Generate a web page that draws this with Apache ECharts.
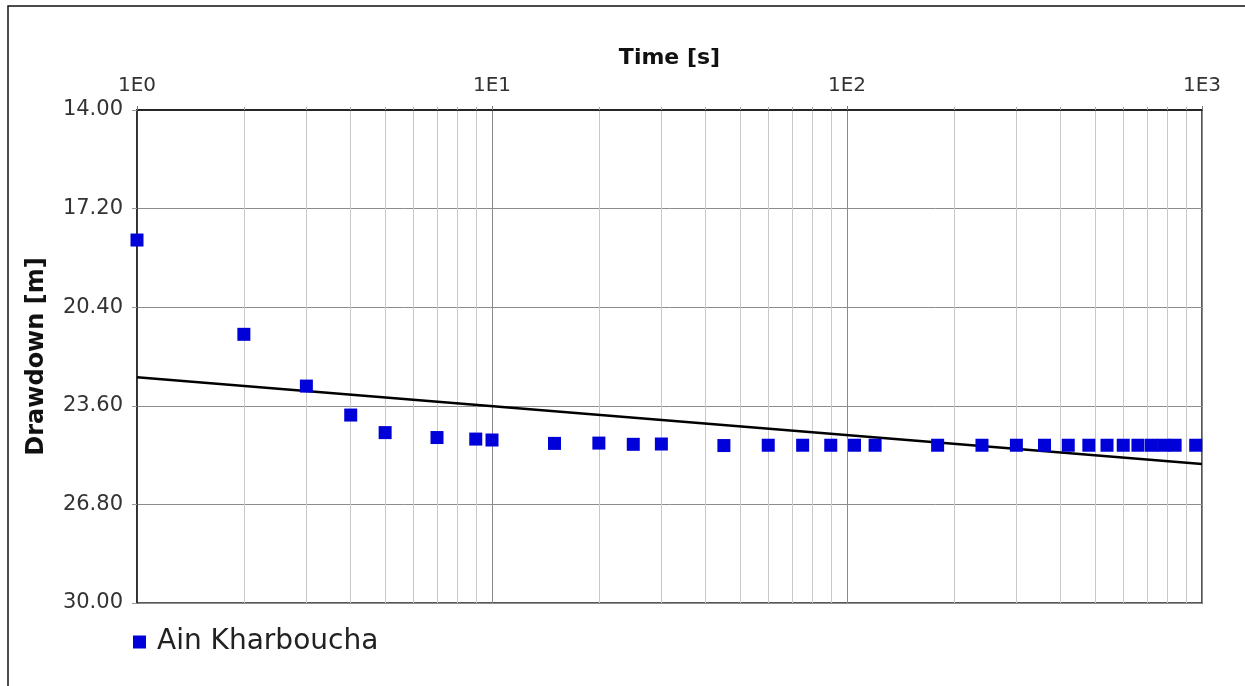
<!DOCTYPE html>
<html>
<head>
<meta charset="utf-8">
<title>Drawdown vs Time</title>
<script src="https://cdn.jsdelivr.net/npm/echarts@6/dist/echarts.min.js"></script>
<style>
  html, body { margin: 0; padding: 0; background: #fff; }
  #chart { width: 1245px; height: 686px; }
</style>
</head>
<body>
<div id="chart"></div>
<script>
// Pumping test observations: elapsed time [s] and drawdown [m]
const times = [1, 2, 3, 4, 5, 7, 9, 10, 15, 20, 25, 30, 45, 60, 75, 90, 105, 120,
  180, 240, 300, 360, 420, 480, 540, 600, 660, 720, 780, 840, 960];
const drawdown = [18.22, 21.28, 22.96, 23.90, 24.47, 24.63, 24.68, 24.71, 24.82, 24.81,
  24.85, 24.84, 24.89, 24.88, 24.88, 24.88, 24.88, 24.88, 24.88, 24.88, 24.88, 24.88,
  24.88, 24.88, 24.88, 24.88, 24.88, 24.88, 24.88, 24.88, 24.88];

// Straight-line (semi-log) fit through the late-time data
const fitTimes = [1, 1000];
const fitDrawdown = [22.67, 25.49];

// Axis ticks
const decadeTicks = [1, 10, 100, 1000];
const minorTicks = [1, 2, 3, 4, 5, 6, 7, 8, 9, 10, 20, 30, 40, 50, 60, 70, 80, 90,
  100, 200, 300, 400, 500, 600, 700, 800, 900, 1000];
const drawdownTicks = [14, 17.2, 20.4, 23.6, 26.8, 30];

const seriesName = 'Ain Kharboucha';

const chart = echarts.init(document.getElementById('chart'));

const font = 'DejaVu Sans';

chart.setOption({
  animation: false,
  backgroundColor: '#fff',
  graphic: [{
    type: 'rect',
    shape: { x: 8, y: 6, width: 1400, height: 900 },
    style: { fill: 'none', stroke: '#111', lineWidth: 1.5 },
    silent: true
  }],
  grid: {
    left: 137, top: 110, right: 43, bottom: 83,
    show: true, borderColor: '#222', borderWidth: 1.5, backgroundColor: 'transparent'
  },
  legend: {
    data: [seriesName],
    left: 128, top: 623,
    icon: 'rect', itemWidth: 13, itemHeight: 13, itemGap: 10,
    textStyle: { fontFamily: font, fontSize: 28, color: '#222', padding: [0, 0, 0, 6] }
  },
  xAxis: [{
    // minor decade subdivisions
    type: 'log', logBase: 10, min: 1, max: 1000, position: 'top',
    axisLine: { show: true, lineStyle: { color: '#222', width: 1.5 } },
    axisTick: { show: true, customValues: minorTicks, length: 3, inside: false,
      lineStyle: { color: '#aaa' } },
    axisLabel: { show: false },
    splitLine: { show: true, lineStyle: { color: '#c8c8c8', width: 1 } }
  }, {
    // decades with labels
    type: 'log', logBase: 10, min: 1, max: 1000, position: 'top',
    name: 'Time [s]', nameLocation: 'middle', nameGap: 41,
    nameTextStyle: { fontFamily: font, fontSize: 22, fontWeight: 'bold', color: '#111' },
    axisLine: { show: true, lineStyle: { color: '#222', width: 1.5 } },
    axisTick: { show: true, customValues: decadeTicks, length: 4, lineStyle: { color: '#777' } },
    axisLabel: {
      show: true, customValues: decadeTicks, margin: 14,
      fontFamily: font, fontSize: 20, color: '#333',
      formatter: v => '1E' + Math.round(Math.log10(v))
    },
    splitLine: { show: true, lineStyle: { color: '#8a8a8a', width: 1 } }
  }],
  yAxis: {
    type: 'value', inverse: true, min: 14, max: 30,
    name: 'Drawdown [m]', nameLocation: 'middle', nameGap: 88, nameRotate: 90,
    nameTextStyle: { fontFamily: font, fontSize: 24, fontWeight: 'bold', color: '#111' },
    axisLine: { show: true, lineStyle: { color: '#222', width: 1.5 } },
    axisTick: { show: true, customValues: drawdownTicks, length: 5, lineStyle: { color: '#999' } },
    axisLabel: {
      show: true, customValues: drawdownTicks, margin: 14,
      fontFamily: font, fontSize: 21, color: '#333',
      formatter: v => v.toFixed(2)
    },
    splitLine: { show: true, lineStyle: { color: '#8c8c8c', width: 1 } }
  },
  series: [{
    name: 'fit',
    type: 'line',
    xAxisIndex: 0,
    data: fitTimes.map((t, i) => [t, fitDrawdown[i]]),
    showSymbol: false,
    symbol: 'none',
    lineStyle: { color: '#000', width: 2.5 },
    z: 3
  }, {
    name: seriesName,
    type: 'scatter',
    xAxisIndex: 0,
    data: times.map((t, i) => [t, drawdown[i]]),
    symbol: 'rect',
    symbolSize: 13,
    itemStyle: { color: '#0000d8', opacity: 1 },
    z: 4
  }]
});
</script>
</body>
</html>
